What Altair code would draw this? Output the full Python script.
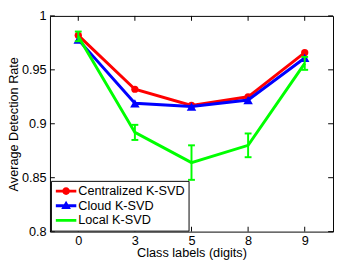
import altair as alt
import pandas as pd

digits = ["0", "3", "5", "8", "9"]
centralized = [0.982, 0.932, 0.917, 0.925, 0.966]
cloud = [0.978, 0.919, 0.916, 0.922, 0.961]
local = [0.981, 0.892, 0.864, 0.880, 0.956]
local_err = [0.0045, 0.007, 0.016, 0.011, 0.006]
series_names = ["Centralized K-SVD", "Cloud K-SVD", "Local K-SVD"]
series_colors = ["#ff0000", "#0000ff", "#00ff00"]
y_ticks = [0.8, 0.85, 0.9, 0.95, 1.0]

rows = []
for name, vals in zip(series_names, [centralized, cloud, local]):
    for i, (d, v) in enumerate(zip(digits, vals)):
        rows.append({"digit": d, "series": name, "rate": v,
                     "err": local_err[i] if name == series_names[2] else 0.0})
df = pd.DataFrame(rows)
digit_df = pd.DataFrame({"digit": digits})
ytick_df = pd.DataFrame({"t": y_ticks})
legend_df = pd.DataFrame({"series": series_names})

W, H = 290, 221
FONT = "Liberation Sans"
RED, BLUE, GREEN = series_colors

x_scale = alt.Scale(type="point", padding=0.5)
y_scale = alt.Scale(domain=[0.8, 1.0], nice=False, zero=False)
color_scale = alt.Scale(domain=series_names, range=series_colors)
x_axis = alt.Axis(title="Class labels (digits)", labelAngle=0)
y_axis = alt.Axis(title="Average Detection Rate", values=y_ticks, format="~g")


def xe():
    return alt.X("digit:O", sort=digits, scale=x_scale, axis=x_axis)


def ye(field):
    return alt.Y(field, scale=y_scale, axis=y_axis)


base = alt.Chart(df).encode(x=xe(), y=ye("rate:Q"))

red = base.transform_filter(alt.datum.series == series_names[0])
blue = base.transform_filter(alt.datum.series == series_names[1])
green = base.transform_filter(alt.datum.series == series_names[2])

red_line = red.mark_line(strokeWidth=3, color=RED)
red_pts = red.mark_point(filled=True, shape="circle", size=55, opacity=1, color=RED)
blue_line = blue.mark_line(strokeWidth=3, color=BLUE)
blue_pts = blue.mark_point(filled=True, shape="triangle-up", size=95, opacity=1, color=BLUE)
green_line = green.mark_line(strokeWidth=3, color=GREEN)

err_base = alt.Chart(df).transform_filter(
    alt.datum.series == series_names[2]
).transform_calculate(
    lo="datum.rate - datum.err", hi="datum.rate + datum.err"
)
err_rule = err_base.mark_rule(color=GREEN, strokeWidth=2).encode(
    x=xe(), y=ye("lo:Q"), y2="hi:Q")
err_lo = err_base.mark_tick(color=GREEN, size=7, thickness=2, opacity=1).encode(
    x=xe(), y=ye("lo:Q"))
err_hi = err_base.mark_tick(color=GREEN, size=7, thickness=2, opacity=1).encode(
    x=xe(), y=ye("hi:Q"))

# inward frame ticks
xt_bottom = alt.Chart(digit_df).mark_rule(color="black", strokeWidth=1).encode(
    x=xe(), y=alt.value(H), y2=alt.value(H - 5))
xt_top = alt.Chart(digit_df).mark_rule(color="black", strokeWidth=1).encode(
    x=xe(), y=alt.value(0), y2=alt.value(5))
yt_left = alt.Chart(ytick_df).mark_rule(color="black", strokeWidth=1).encode(
    y=ye("t:Q"), x=alt.value(0), x2=alt.value(5))
yt_right = alt.Chart(ytick_df).mark_rule(color="black", strokeWidth=1).encode(
    y=ye("t:Q"), x=alt.value(W - 5), x2=alt.value(W))

# legend (line + marker symbols); the helper points are clipped away
line_rect = "M-1,-0.14L1,-0.14L1,0.14L-1,0.14Z"
circle_p = "M-0.38,0A0.38,0.38 0 1,1 0.38,0A0.38,0.38 0 1,1 -0.38,0Z"
tri_p = "M0,-0.5L0.47,0.32L-0.47,0.32Z"
legend_shapes = [line_rect + circle_p, line_rect + tri_p, line_rect]

leg = alt.Legend(title=None, orient="none", legendX=1, legendY=169,
                 strokeColor="black", fillColor="white", padding=3,
                 labelFont=FONT, labelFontSize=13, labelColor="black",
                 symbolSize=441, clipHeight=15, rowPadding=0, labelOffset=2,
                 symbolOffset=2, symbolStrokeWidth=0, cornerRadius=0)

legend_layer = alt.Chart(legend_df).mark_point(
    filled=True, opacity=1, clip=True
).encode(
    x=alt.value(-200), y=alt.value(-200),
    color=alt.Color("series:N", scale=color_scale, legend=leg),
    shape=alt.Shape("series:N", scale=alt.Scale(domain=series_names, range=legend_shapes),
                    legend=leg),
)

chart = alt.layer(
    legend_layer,
    red_line, red_pts, blue_line, blue_pts,
    green_line, err_rule, err_lo, err_hi,
    xt_bottom, xt_top, yt_left, yt_right,
).properties(
    width=W, height=H,
    autosize=alt.AutoSizeParams(type="none"),
    padding={"left": 43, "top": 5, "right": 1, "bottom": 27},
).configure_view(
    stroke="black", strokeWidth=1
).configure_axis(
    domain=False, ticks=False, grid=False,
    labelFont=FONT, labelFontSize=13, labelColor="black",
    titleFont=FONT, titleFontSize=13, titleFontWeight="normal", titleColor="black",
).configure_axisX(
    labelPadding=3, titlePadding=0
).configure_axisY(
    labelPadding=4, titlePadding=1
)

chart.save("out.html", embed_options={"renderer": "svg", "actions": False})
